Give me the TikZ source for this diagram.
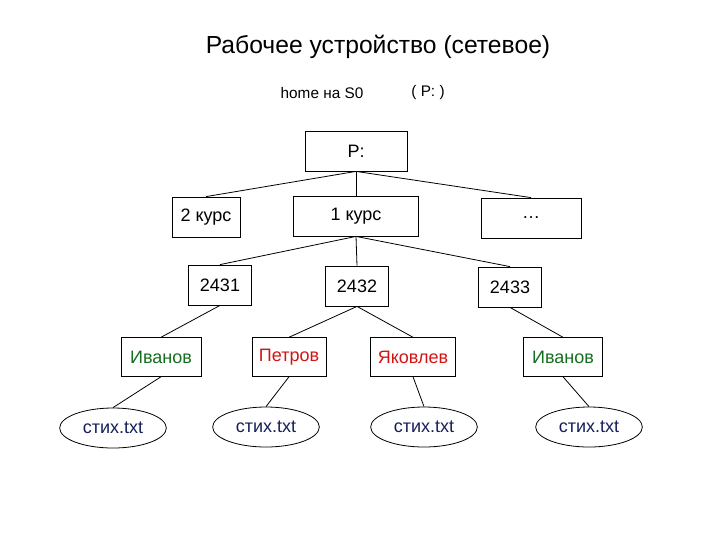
\documentclass[tikz,border=0pt]{standalone}
\usepackage{fontspec}
\setmainfont{Liberation Sans}
\usetikzlibrary{shapes.geometric}
\definecolor{dgreen}{RGB}{20,110,30}
\definecolor{dred}{RGB}{210,20,20}
\definecolor{dblue}{RGB}{20,30,90}
\begin{document}
\begin{tikzpicture}[x=0.75pt,y=-0.75pt,
  bx/.style={draw,line width=0.6pt,inner sep=0pt,font=\fontsize{13.5}{15}\selectfont},
  ell/.style={draw,ellipse,line width=0.6pt,minimum width=80pt,minimum height=30pt,inner sep=0pt,text=dblue,font=\fontsize{13.5}{15}\selectfont},
  ln/.style={line width=0.6pt}]
\useasboundingbox (0,0) rectangle (720,540);
\node (title) at (378,47) {\fontsize{18.5}{20}\selectfont Рабочее устройство (сетевое)};
\node (home) at (322,93) {\fontsize{11.5}{13}\selectfont home на S0};
\node (pp) at (428,93) {\fontsize{11.5}{13}\selectfont ( P: )};
\node[bx,minimum width=76.5pt,minimum height=30pt] (P) at (356,151) {P:};
\node[bx,minimum width=51pt,minimum height=30pt] (k2) at (206,217) {2 курс};
\node[bx,minimum width=94pt,minimum height=30pt] (k1) at (356,216) {1 курс};
\node[bx,minimum width=75pt,minimum height=30pt] (dots) at (531,218) {\dots};
\node[bx,minimum width=47pt,minimum height=30pt] (g1) at (220,285) {2431};
\node[bx,minimum width=47pt,minimum height=30pt] (g2) at (357,286) {2432};
\node[bx,minimum width=47pt,minimum height=30pt] (g3) at (510,287) {2433};
\node[bx,minimum width=60pt,minimum height=29pt,text=dgreen] (s1) at (161,357) {Иванов};
\node[bx,minimum width=55.5pt,minimum height=29pt,text=dred] (s2) at (289,357) {Петров};
\node[bx,minimum width=64pt,minimum height=29pt,text=dred] (s3) at (413,357) {Яковлев};
\node[bx,minimum width=59pt,minimum height=29pt,text=dgreen] (s4) at (563,357) {Иванов};
\node[ell] (f1) at (113,428) {стих.txt};
\node[ell] (f2) at (266,427) {стих.txt};
\node[ell] (f3) at (424,427) {стих.txt};
\node[ell] (f4) at (589,427) {стих.txt};
\draw[ln] (P.south) -- (k2.north);
\draw[ln] (P.south) -- (k1.north);
\draw[ln] (P.south) -- (dots.north);
\draw[ln] (k1.south) -- (g1.north);
\draw[ln] (k1.south) -- (g2.north);
\draw[ln] (k1.south) -- (g3.north);
\draw[ln] (g1.south) -- (s1.north);
\draw[ln] (g2.south) -- (s2.north);
\draw[ln] (g2.south) -- (s3.north);
\draw[ln] (g3.south) -- (s4.north);
\draw[ln] (s1.south) -- (f1.north);
\draw[ln] (s2.south) -- (f2.north);
\draw[ln] (s3.south) -- (f3.north);
\draw[ln] (s4.south) -- (f4.north);
\end{tikzpicture}
\end{document}
